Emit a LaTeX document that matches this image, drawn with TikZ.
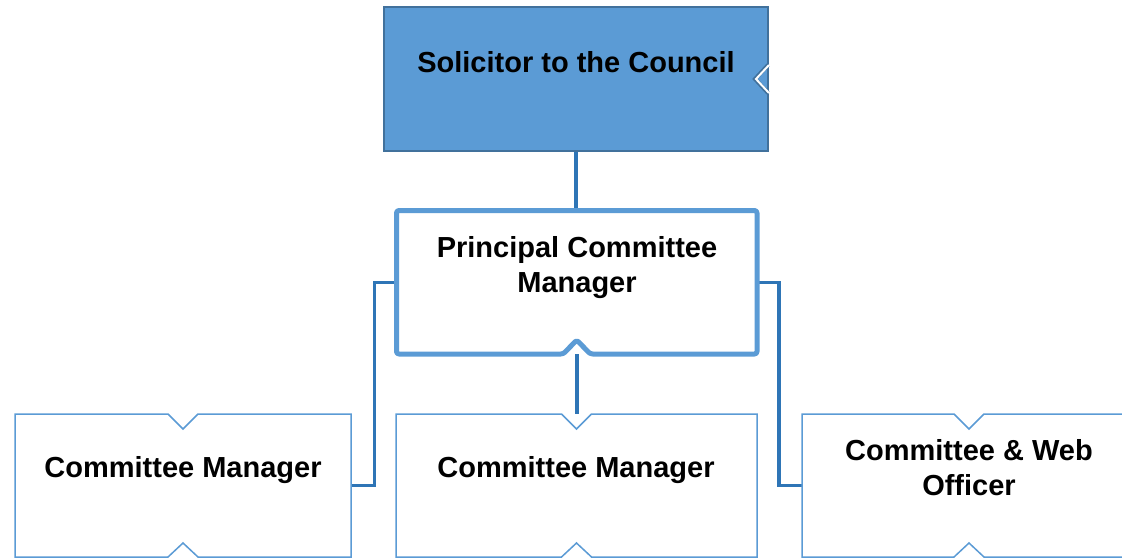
\documentclass[tikz,border=0pt]{standalone}
\usepackage{fontspec}
\setmainfont{Liberation Sans}
\definecolor{fillblue}{HTML}{5B9BD5}
\definecolor{darkblue}{HTML}{41719C}
\definecolor{conblue}{HTML}{2E75B6}
\pgfdeclarelayer{bg}
\pgfsetlayers{bg,main}
\begin{document}
\begin{tikzpicture}[x=1pt,y=-1pt,
  lbl/.style={font=\fontsize{29}{35}\selectfont\bfseries, text=black, inner sep=0pt, align=center},
  topbox/.style={draw=darkblue, fill=fillblue, line width=1.5pt, minimum width=384pt, minimum height=144pt, outer sep=0pt, inner sep=0pt},
  midbox/.style={fill=white, minimum width=360.5pt, minimum height=143.5pt, outer sep=0pt, inner sep=0pt},
  midline/.style={draw=fillblue, line width=5pt, rounded corners=2.5pt, line join=round},
  lowbox/.style={fill=white, minimum height=143pt, outer sep=0pt, inner sep=0pt},
  lowline/.style={draw=fillblue, line width=1.5pt},
  conn/.style={draw=conblue, line width=3.5pt}]
\useasboundingbox (0,0) rectangle (1122,558);
\clip (0,0) rectangle (1122,558);
% boxes
\node[topbox] (box1) at (576,79) {};
\node[midbox] (box2) at (576.75,282.25) {};
\node[lowbox, minimum width=336pt] (box3) at (183,485.5) {};
\node[lowbox, minimum width=361pt] (box4) at (576.5,485.5) {};
\node[lowbox, minimum width=334pt] (box5) at (969,485.5) {};
% connectors
\begin{pgfonlayer}{bg}
\draw[conn] (box1.south) -- (box1.south |- box2.north);
\draw[conn] (box2.west) -- ++(-22,0) |- (box3.east);
\draw[conn] (box2.east) -- ++(22,0) |- (box5.west);
\draw[conn] (box2.south) -- (box2.south |- box4.north);
\end{pgfonlayer}
% top box notch
\draw[darkblue, line width=4pt] ([yshift=14pt]box1.east) -- ([xshift=-13pt]box1.east) -- ([yshift=-14pt]box1.east);
\draw[white, line width=2pt] ([xshift=1pt,yshift=14pt]box1.east) -- ([xshift=-12pt]box1.east) -- ([xshift=1pt,yshift=-14pt]box1.east);
% principal box outline with notch
\draw[midline] (box2.north west) -- (box2.north east) -- (box2.south east)
  -- ([xshift=13.5pt]box2.south) -- ([yshift=14pt]box2.south) -- ([xshift=-13.5pt]box2.south)
  -- (box2.south west) -- cycle;
% lower boxes outlines with notches
\foreach \b in {box3,box4,box5}{
  \draw[lowline] (\b.north west) -- ([xshift=-15pt]\b.north) -- ([yshift=-15pt]\b.north)
    -- ([xshift=15pt]\b.north) -- (\b.north east) -- (\b.south east)
    -- ([xshift=15pt]\b.south) -- ([yshift=14pt]\b.south) -- ([xshift=-15pt]\b.south)
    -- (\b.south west) -- cycle;
}
% labels
\node[lbl, anchor=base] (t1) at (576,72) {Solicitor to the Council};
\node[lbl, anchor=north] (t2) at (577,236) {Principal Committee\\Manager};
\node[lbl, anchor=base] (t3) at (183,477) {Committee Manager};
\node[lbl, anchor=base] (t4) at (576,477) {Committee Manager};
\node[lbl, anchor=north] (t5) at (969,439) {Committee \& Web\\Officer};
\end{tikzpicture}
\end{document}
